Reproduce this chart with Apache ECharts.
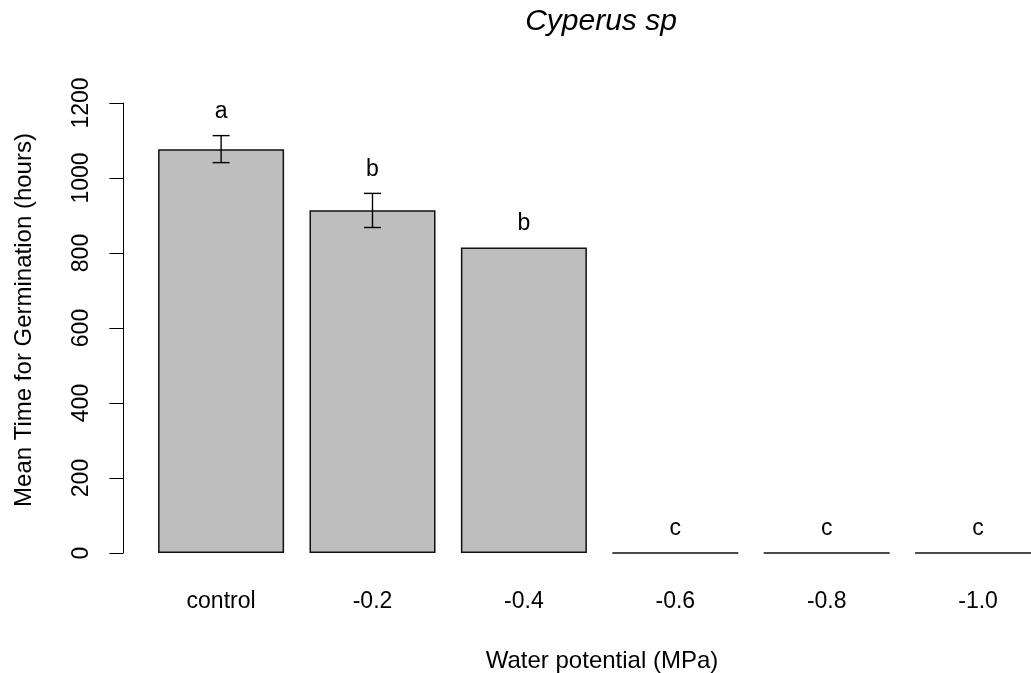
<!DOCTYPE html>
<html>
<head>
<meta charset="utf-8">
<script src="https://cdn.jsdelivr.net/npm/echarts@6/dist/echarts.min.js"></script>
<style>html,body{margin:0;padding:0;background:#fff;}#c{width:1031px;height:673px;}</style>
</head>
<body>
<div id="c"></div>
<script>
// Data
const categories = ['control', '-0.2', '-0.4', '-0.6', '-0.8', '-1.0'];
const meanTime = [1077, 914, 815, 0, 0, 0];
const errLow = [1041, 868, null, null, null, null];
const errHigh = [1113, 959, null, null, null, null];
const letters = ['a', 'b', 'b', 'c', 'c', 'c'];
const yTicks = [0, 200, 400, 600, 800, 1000, 1200];

const FONT = 'Liberation Sans, Arial, sans-serif';
const chart = echarts.init(document.getElementById('c'), null, {renderer: 'canvas'});

chart.setOption({
  backgroundColor: '#ffffff',
  animation: false,
  grid: {left: 145.4, width: 908.4, top: 103, bottom: 120, containLabel: false, outerBoundsMode: 'none'},
  xAxis: {
    type: 'category',
    data: categories,
    axisLine: {show: false},
    axisTick: {show: false},
    axisLabel: {color: '#000', fontSize: 23, fontFamily: FONT, margin: 37},
    splitLine: {show: false}
  },
  yAxis: {
    type: 'value',
    min: yTicks[0],
    max: yTicks[yTicks.length - 1],
    interval: 200,
    offset: 22,
    axisLine: {show: true, lineStyle: {color: '#000', width: 1}},
    axisTick: {show: true, inside: false, length: 14, lineStyle: {color: '#000', width: 1}},
    axisLabel: {color: '#000', fontSize: 23, fontFamily: FONT, rotate: 90, margin: 30, formatter: function (v) { return String(v); }},
    splitLine: {show: false}
  },
  graphic: [
    {type: 'text', x: 601, y: 22, style: {text: 'Cyperus sp', font: 'italic 30px ' + FONT, fill: '#000', textAlign: 'center', textVerticalAlign: 'middle'}},
    {type: 'text', x: 602, y: 661, style: {text: 'Water potential (MPa)', font: '24px ' + FONT, fill: '#000', textAlign: 'center', textVerticalAlign: 'middle'}},
    {type: 'text', x: 24, y: 320, rotation: Math.PI / 2, style: {text: 'Mean Time for Germination (hours)', font: '24px ' + FONT, fill: '#000', textAlign: 'center', textVerticalAlign: 'middle'}}
  ],
  series: [
    {
      type: 'bar',
      data: meanTime,
      barWidth: 126,
      itemStyle: {color: '#BEBEBE', borderColor: '#111', borderWidth: 1.5},
      silent: true
    },
    {
      type: 'custom',
      data: meanTime.map((v, i) => [i, v]),
      encode: {x: 0, y: 1},
      z: 5,
      renderItem: function (params, api) {
        const i = params.dataIndex;
        const x = api.coord([i, 0])[0];
        const children = [];
        let topVal = meanTime[i];
        if (errHigh[i] != null && errLow[i] != null) {
          const yl = api.coord([i, errLow[i]])[1];
          const yh = api.coord([i, errHigh[i]])[1];
          const st = {stroke: '#000', lineWidth: 1.4};
          children.push({type: 'line', shape: {x1: x, y1: yl, x2: x, y2: yh}, style: st});
          children.push({type: 'line', shape: {x1: x - 8.5, y1: yl, x2: x + 8.5, y2: yl}, style: st});
          children.push({type: 'line', shape: {x1: x - 8.5, y1: yh, x2: x + 8.5, y2: yh}, style: st});
          topVal = Math.max(topVal, errHigh[i]);
        }
        const yt = api.coord([i, topVal])[1];
        children.push({type: 'text', x: x, y: yt - 24, style: {text: letters[i], font: '23px ' + FONT, fill: '#000', textAlign: 'center', textVerticalAlign: 'middle'}});
        return {type: 'group', children: children};
      }
    }
  ]
});
</script>
</body>
</html>
